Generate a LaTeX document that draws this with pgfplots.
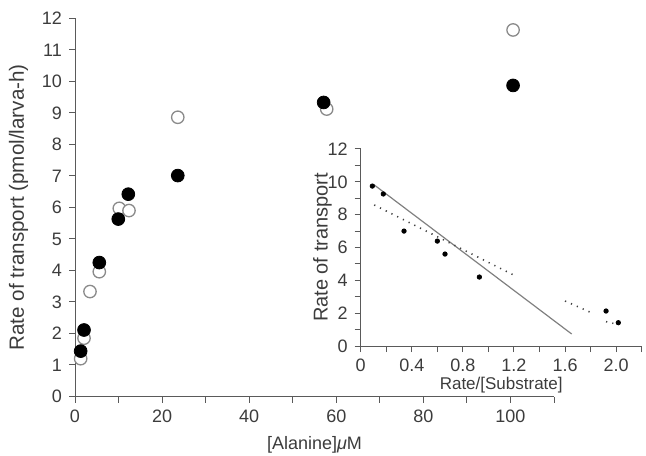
\documentclass[border=0pt]{standalone}
\usepackage{pgfplots}
\pgfplotsset{compat=1.18}
\usepackage{fontspec}
\setmainfont{Liberation Sans}
\definecolor{txt}{HTML}{3C3C3C}
\definecolor{axc}{HTML}{5A5A5A}
\definecolor{opc}{HTML}{8A8A8A}
\begin{document}
\begin{tikzpicture}
\begin{axis}[
  name=main,
  at={(0,0)}, anchor=south west,
  scale only axis,
  width=239.5pt, height=189.1pt,
  xmin=0, xmax=110, ymin=0, ymax=12,
  axis x line=bottom, axis y line=left,
  axis line style={-, draw=axc, line width=0.5pt},
  tick style={draw=axc, line width=0.5pt},
  tick align=outside,
  major tick length=3pt, minor tick length=3pt,
  xtick={0,20,...,100}, minor xtick={10,30,...,110},
  ytick={0,1,...,12},
  /pgf/number format/assume math mode=true,
  ticklabel style={font=\fontsize{9}{10}\selectfont, text=txt},
  xlabel={[Alanine]\textit{μ}M},
  ylabel={Rate of transport (pmol/larva-h)},
  xlabel style={font=\fontsize{9}{10}\selectfont, text=txt},
  ylabel style={font=\fontsize{10.3}{11}\selectfont, text=txt},
  clip=false,
]
\addplot[only marks, mark=*, mark size=3.1pt, mark options={draw=opc, fill=white, line width=0.65pt}]
 coordinates {(1.3,1.2) (2.07,1.85) (3.44,3.33) (5.58,3.96) (10.17,5.97) (12.4,5.9) (23.6,8.86) (57.8,9.12) (100.6,11.63)};
\addplot[only marks, mark=*, mark size=3.2pt, mark options={draw=black, fill=black}]
 coordinates {(1.3,1.44) (2.07,2.11) (5.58,4.25) (9.94,5.63) (12.24,6.42) (23.6,7.01) (57.1,9.33) (100.6,9.87)};
\end{axis}
\begin{axis}[
  name=inset,
  at={(142.85pt,25.25pt)}, anchor=south west,
  scale only axis,
  width=140.5pt, height=98.5pt,
  xmin=0, xmax=2.2, ymin=0, ymax=12,
  axis x line=bottom, axis y line=left,
  axis line style={-, draw=axc, line width=0.5pt},
  tick style={draw=axc, line width=0.5pt},
  tick align=outside,
  major tick length=3pt, minor tick length=3pt,
  xtick={0,0.4,0.8,1.2,1.6,2.0},
  xticklabels={0,0.4,0.8,1.2,1.6,2.0},
  minor xtick={0.2,0.6,1.0,1.4,1.8,2.2},
  ytick={0,2,...,12}, minor ytick={1,3,...,11},
  /pgf/number format/assume math mode=true,
  ticklabel style={font=\fontsize{9}{10}\selectfont, text=txt},
  xlabel={Rate/[Substrate]},
  ylabel={Rate of transport},
  xlabel style={font=\fontsize{8.5}{9}\selectfont, text=txt, yshift=4pt},
  ylabel style={font=\fontsize{10}{11}\selectfont, text=txt, yshift=-9pt},
  clip=false,
]
\addplot[draw=gray, line width=0.6pt] coordinates {(0.099,9.85) (1.652,0.73)};
\addplot[draw=black!75, line width=0.8pt, dash pattern=on 0.6pt off 2.6pt] coordinates {(0.106,8.59) (1.208,4.28)};
\addplot[draw=black!75, line width=0.8pt, dash pattern=on 0.6pt off 2.6pt] coordinates {(1.60,2.74) (1.817,1.99)};
\addplot[draw=black!75, line width=0.8pt, dash pattern=on 0.6pt off 2.6pt] coordinates {(1.921,1.48) (1.978,1.38)};
\addplot[only marks, mark=*, mark size=1.1pt, mark options={draw=black, fill=black}]
 coordinates {(0.091,9.74) (0.177,9.26) (0.339,7.0) (0.60,6.39) (0.66,5.6) (0.929,4.2) (1.921,2.13) (2.017,1.42)};
\end{axis}
\pgfresetboundingbox
\path (-37.5pt,-29.25pt) rectangle (285.5pt,198.25pt);
\end{tikzpicture}
\end{document}
